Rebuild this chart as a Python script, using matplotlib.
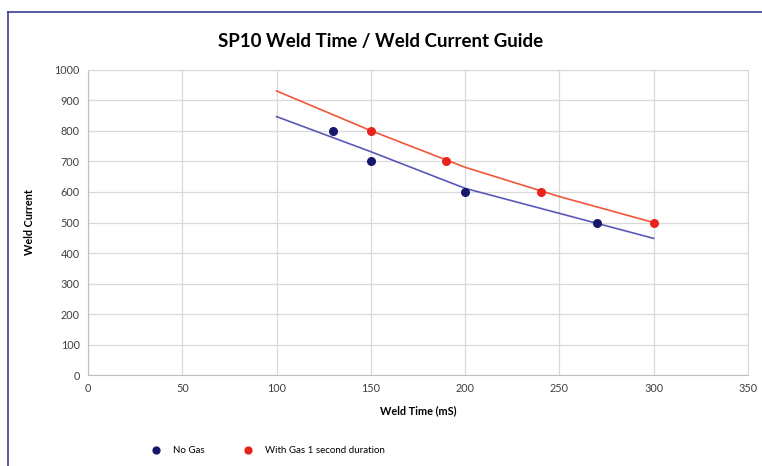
import matplotlib
matplotlib.use("Agg")
import matplotlib.pyplot as plt
from matplotlib.lines import Line2D

# measured points
no_gas_time = [130, 150, 200, 270]
no_gas_current = [800, 700, 600, 500]
gas_time = [150, 190, 240, 300]
gas_current = [800, 700, 600, 500]

# trendlines
trend_time = [100, 150, 200, 250, 300]
no_gas_trend = [847, 732, 612, 530, 448]
gas_trend = [931, 801, 681, 585, 500]

plt.rcParams['font.family'] = ['Lato', 'DejaVu Sans']

fig = plt.figure(figsize=(7.62, 4.66), dpi=100)
ax = fig.add_axes([0.1155, 0.195, 0.866, 0.655])

ax.plot(trend_time, no_gas_trend, color='#5a58b8', lw=1.2, zorder=2)
ax.plot(trend_time, gas_trend, color='#f2553a', lw=1.2, zorder=2)
ax.scatter(no_gas_time, no_gas_current, s=30, color='#15176b', zorder=3, label='No Gas')
ax.scatter(gas_time, gas_current, s=30, color='#e8231c', zorder=3, label='With Gas 1 second duration')

ax.set_xlim(0, 350)
ax.set_ylim(0, 1000)
ax.set_xticks(range(0, 351, 50))
ax.set_yticks(range(0, 1001, 100))
ax.grid(True, color='#d9d9d9', lw=0.9)
ax.set_axisbelow(True)
for s in ['top', 'right']:
    ax.spines[s].set_color('#d9d9d9')
for s in ['left', 'bottom']:
    ax.spines[s].set_color('#bfbfbf')
ax.tick_params(length=0, labelsize=7.8, colors='#404040', pad=6)

ax.set_xlabel('Weld Time (mS)', fontsize=7.8, fontweight='bold', labelpad=8)
ax.set_ylabel('Weld Current', fontsize=7.8, fontweight='bold', labelpad=14)
fig.suptitle('SP10 Weld Time / Weld Current Guide', x=0.5, y=0.93, fontsize=13.5, fontweight='bold')

fig.legend(loc='center left', bbox_to_anchor=(0.187, 0.034), ncol=2, frameon=False,
           fontsize=7, columnspacing=4.0, handletextpad=1.2, markerscale=0.9,
           handlelength=1.0)

# frame lines at top and left like the screenshot
fig.add_artist(Line2D([8/762, 1], [1 - 12/466, 1 - 12/466], color='#3c3c9a', lw=1.2))
fig.add_artist(Line2D([8/762, 8/762], [0, 1 - 12/466], color='#3c3c9a', lw=1.2))

fig.savefig('out.png', dpi=100)
